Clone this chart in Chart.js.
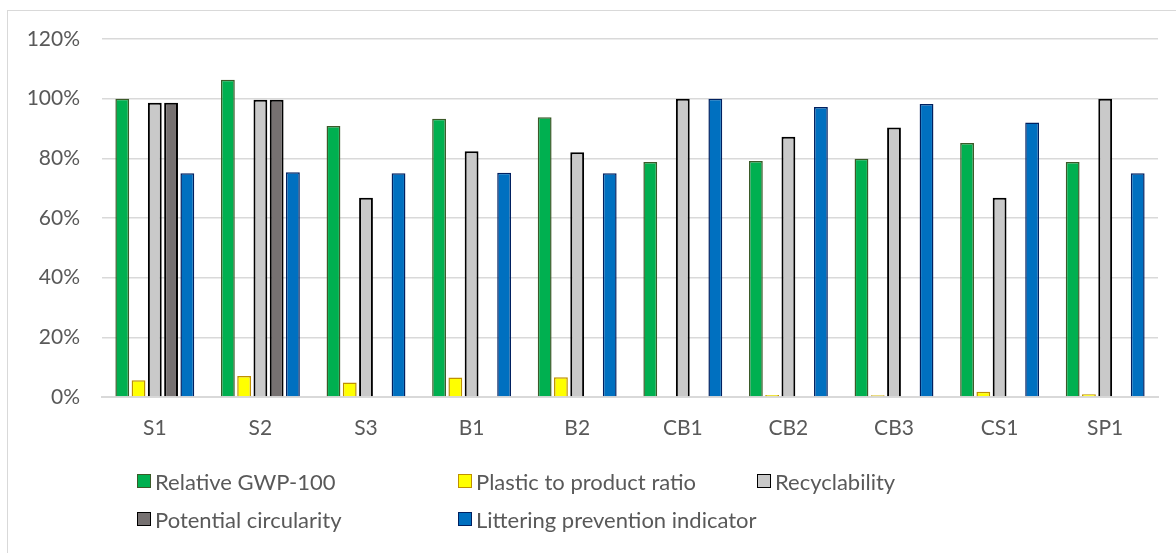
<!DOCTYPE html>
<html>
<head>
<meta charset="utf-8">
<script src="https://cdn.jsdelivr.net/npm/chart.js@4.4.1/dist/chart.umd.min.js"></script>
<style>
  html, body { margin: 0; padding: 0; background: #fff; }
  #wrap { position: relative; width: 1176px; height: 553px; overflow: hidden; }
  #frame { position: absolute; left: 7px; top: 10px; width: 1200px; height: 600px;
           border: 1px solid #d9d9d9; box-sizing: border-box; }
  canvas { position: absolute; left: 0; top: 0; }
  .lg { position: absolute; display: flex; align-items: center; white-space: nowrap;
        font-family: Lato, "Liberation Sans", sans-serif; font-size: 22px; color: #595959; }
  .lg i { display: inline-block; width: 12px; height: 12px; margin-right: 4px; box-sizing: content-box; }
</style>
</head>
<body>
<div id="wrap">
  <div id="frame"></div>
  <canvas id="c" width="1176" height="553"></canvas>
</div>
<script>
// Packaging alternatives compared on five indicators (values in %)
const categories = ['S1', 'S2', 'S3', 'B1', 'B2', 'CB1', 'CB2', 'CB3', 'CS1', 'SP1'];
const relativeGwp = [100, 106.3, 90.8, 93.3, 93.8, 78.8, 79.1, 79.9, 85.1, 78.8];
const plasticRatio = [5.6, 7.0, 4.9, 6.5, 6.6, null, 0.7, 0.6, 1.8, 0.9];
const recyclability = [98.6, 99.6, 66.8, 82.4, 82.0, 100, 87.2, 90.3, 66.8, 100];
const potentialCircularity = [98.6, 99.6, null, null, null, null, null, null, null, null];
const litteringPrevention = [75, 75.3, 75, 75.2, 75, 100, 97.2, 98.2, 92, 75];
const yTicks = [0, 20, 40, 60, 80, 100, 120];

const FONT = 'Lato, "Liberation Sans", sans-serif';
const TEXT = '#595959';
const GRID = '#d9d9d9';

const series = [
  { label: 'Relative GWP-100', data: relativeGwp, fill: '#00b050', line: '#3a5a28', bw: 1.5 },
  { label: 'Plastic to product ratio', data: plasticRatio, fill: '#ffff00', line: '#bf9000', bw: 1.5 },
  { label: 'Recyclability', data: recyclability, fill: '#c9c9c9', line: '#000000', bw: 2 },
  { label: 'Potential circularity', data: potentialCircularity, fill: '#767171', line: '#000000', bw: 2 },
  { label: 'Littering prevention indicator', data: litteringPrevention, fill: '#0070c0', line: '#002060', bw: 1.5 }
];

const chart = new Chart(document.getElementById('c'), {
  type: 'bar',
  data: {
    labels: categories,
    datasets: series.map(s => ({
      label: s.label,
      data: s.data,
      backgroundColor: s.fill,
      borderColor: s.line,
      borderWidth: s.bw,
      categoryPercentage: 0.77,
      barPercentage: 0.85
    }))
  },
  options: {
    responsive: false,
    animation: false,
    devicePixelRatio: 1,
    layout: { padding: { left: 26, right: 18, top: 39, bottom: 0 } },
    plugins: { legend: { display: false }, tooltip: { enabled: false } },
    scales: {
      x: {
        grid: { display: false, drawTicks: false },
        border: { display: true, color: GRID, width: 2 },
        ticks: { font: { family: FONT, size: 21 }, color: TEXT, padding: 19 },
        afterFit: s => { s.height = 156; }
      },
      y: {
        min: 0, max: 120,
        afterBuildTicks: s => { s.ticks = yTicks.map(v => ({ value: v })); },
        grid: { color: GRID, lineWidth: 1.5, drawTicks: false },
        border: { display: false },
        ticks: { font: { family: FONT, size: 21 }, color: TEXT, padding: 22,
                 callback: v => v + '%' },
        afterFit: s => { s.width = 76; }
      }
    }
  }
});

// Legend laid out in three columns, two rows
const legendCols = [137, 458, 757];
const legendRows = [481, 519];
const wrap = document.getElementById('wrap');
chart.data.datasets.forEach((ds, i) => {
  const el = document.createElement('div');
  el.className = 'lg';
  el.style.left = legendCols[i % 3] + 'px';
  el.style.top = (legendRows[Math.floor(i / 3)] - 13) + 'px';
  el.style.height = '26px';
  const sw = document.createElement('i');
  sw.style.background = ds.backgroundColor;
  sw.style.border = '1.5px solid ' + ds.borderColor;
  el.appendChild(sw);
  el.appendChild(document.createTextNode(ds.label));
  wrap.appendChild(el);
});
</script>
</body>
</html>
